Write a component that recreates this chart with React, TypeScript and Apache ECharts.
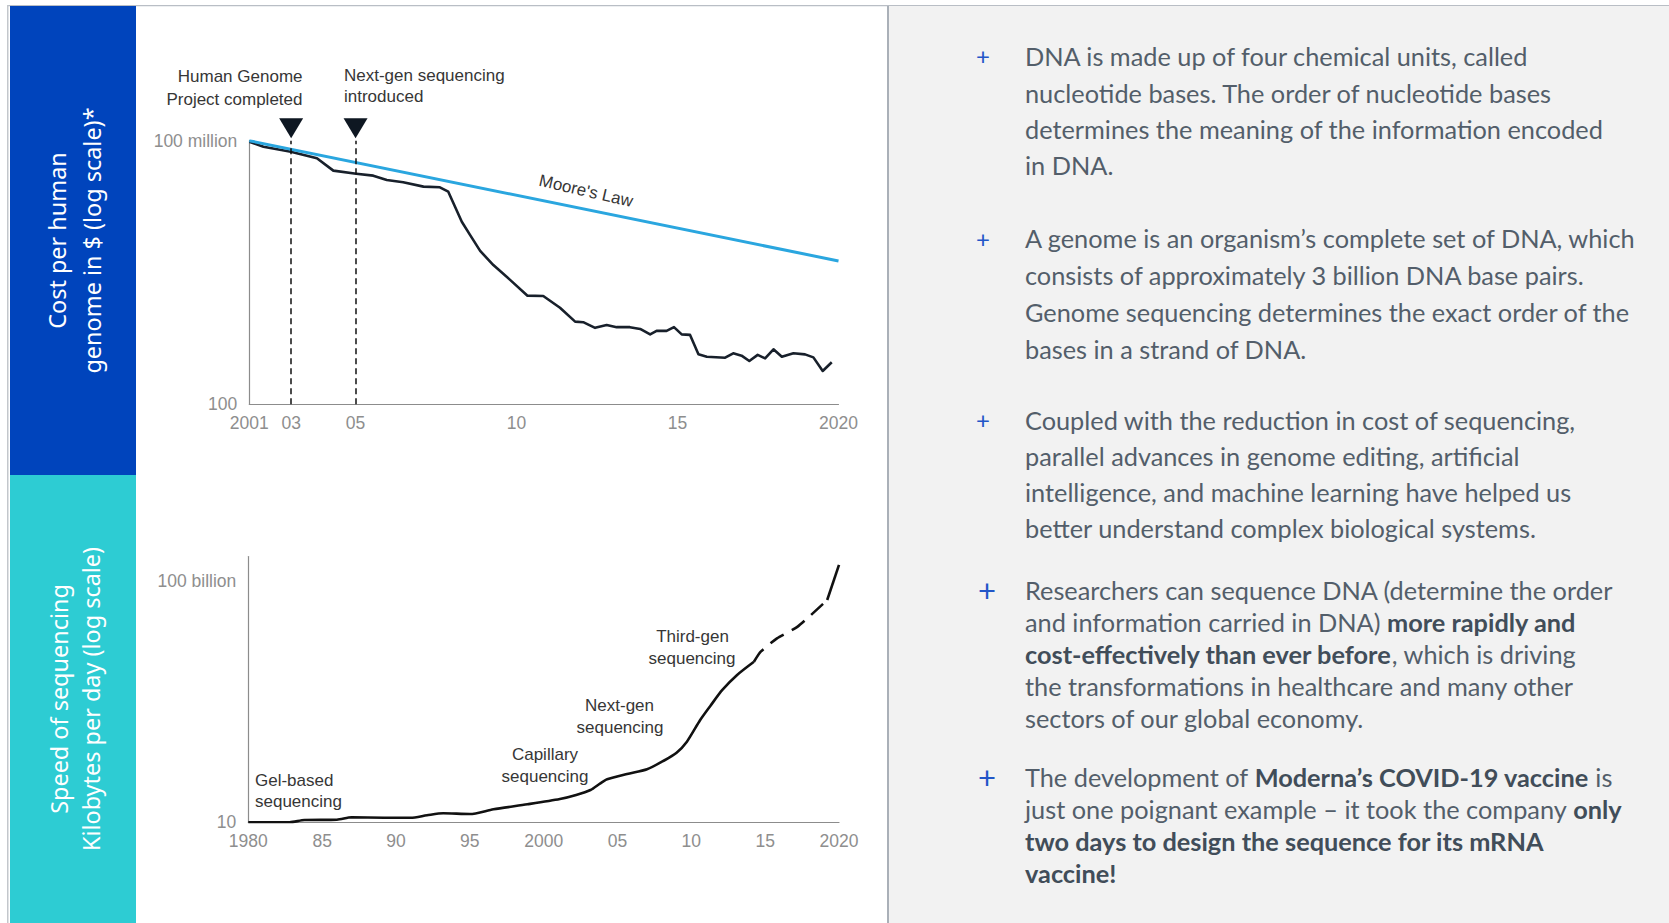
import React, { useEffect, useRef } from "react";
import * as echarts from "echarts";

// ---------- Top chart: cost per human genome, $ (log scale) ----------
const costYears = [
  2001.7, 2002.14, 2002.99, 2003.8, 2004.31, 2005.02, 2005.55, 2005.97, 2006.48, 2007.11,
  2007.62, 2007.88, 2008.3, 2008.56, 2008.87, 2009.28, 2009.8, 2010.34, 2010.83, 2011.35,
  2011.82, 2012.07, 2012.44, 2012.8, 2013.11, 2013.52, 2013.84, 2014.15, 2014.35, 2014.66,
  2014.89, 2015.13, 2015.39, 2015.65, 2015.91, 2016.48, 2016.73, 2016.99, 2017.23, 2017.49,
  2017.72, 2017.98, 2018.24, 2018.6, 2018.96, 2019.22, 2019.51, 2019.79,
];
const costValues = [
  95e6, 73e6, 56e6, 40e6, 20.8e6, 17.7e6, 16e6, 12.8e6, 11.3e6, 9.0e6,
  8.7e6, 6.9e6, 1.43e6, 710e3, 310e3, 148e3, 68e3, 29.7e3, 29.2e3, 15.8e3,
  7.6e3, 7.4e3, 5.5e3, 6.4e3, 5.7e3, 5.7e3, 5.2e3, 3.9e3, 4.7e3, 4.7e3,
  5.7e3, 3.9e3, 3.8e3, 1370, 1210, 1150, 1450, 1280, 968, 1330,
  1110, 1790, 1210, 1450, 1370, 1170, 573, 904,
];
const mooreYears = [2001.7, 2020];
const mooreValues = [1.0e8, 1.83e5];
const milestoneYears = [2003, 2005];
const costXMin = 2001.7;
const costXMax = 2020;
const costYMin = 100;
const costYMax = 1e8;
const costXTicks = [2001.7, 2003, 2005, 2010, 2015, 2020];
const costXTickLabels = ["2001", "03", "05", "10", "15", "2020"];
const costYTicks = [100, 1e8];
const costYTickLabels = ["100", "100 million"];
const costMilestoneLabels = [
  ["Human Genome", "Project completed"],
  ["Next-gen sequencing", "introduced"],
];
const mooreLabel = "Moore's Law";

// ---------- Bottom chart: speed of sequencing, kilobytes per day (log scale) ----------
const speedYears = [
  1980, 1982.8, 1983.8, 1986.0, 1987.0, 1989.2, 1991.0, 1992.1, 1993.2, 1995.0,
  1996.6, 1998.9, 2001.1, 2002.2, 2003.17, 2003.84, 2004.3, 2005.65, 2007.0, 2008.1,
  2009.0, 2009.7, 2010.6, 2011.3, 2012.1, 2013.1, 2014.24,
];
const speedValues = [
  10, 10, 12.4, 12.8, 16.1, 15.5, 15.5, 19.5, 23.6, 22,
  34.5, 55.6, 92, 135, 217, 411, 603, 1000, 1560, 3440,
  7600, 21700, 171000, 670000, 3.0e6, 1.25e7, 4.4e7,
];
const speedProjYears = [2014.24, 2014.7, 2015.8, 2017.2, 2019.2];
const speedProjValues = [4.4e7, 1.15e8, 4.1e8, 1.25e9, 1.58e10];
const speedLatestYears = [2019.2, 2020];
const speedLatestValues = [1.58e10, 4.5e11];
const speedXMin = 1980;
const speedXMax = 2020;
const speedYMin = 10;
const speedYMax = 1e12;
const speedXTicks = [1980, 1985, 1990, 1995, 2000, 2005, 2010, 2015, 2020];
const speedXTickLabels = ["1980", "85", "90", "95", "2000", "05", "10", "15", "2020"];
const speedYTicks = [10, 1e11];
const speedYTickLabels = ["10", "100 billion"];
const speedEraLabels = [
  ["Gel-based", "sequencing"],
  ["Capillary", "sequencing"],
  ["Next-gen", "sequencing"],
  ["Third-gen", "sequencing"],
];

// ---------- Side panel texts ----------
const costPanelTitle = ["Cost per human", "genome in $ (log scale)*"];
const speedPanelTitle = ["Speed of sequencing", "Kilobytes per day (log scale)"];
const bulletParagraphs = [
  [
    "DNA is made up of four chemical units, called",
    "nucleotide bases. The order of nucleotide bases",
    "determines the meaning of the information encoded",
    "in DNA.",
  ],
  [
    "A genome is an organism’s complete set of DNA, which",
    "consists of approximately 3 billion DNA base pairs.",
    "Genome sequencing determines the exact order of the",
    "bases in a strand of DNA.",
  ],
  [
    "Coupled with the reduction in cost of sequencing,",
    "parallel advances in genome editing, artificial",
    "intelligence, and machine learning have helped us",
    "better understand complex biological systems.",
  ],
  [
    "Researchers can sequence DNA (determine the order",
    "and information carried in DNA) **more rapidly and**",
    "**cost-effectively than ever before**, which is driving",
    "the transformations in healthcare and many other",
    "sectors of our global economy.",
  ],
  [
    "The development of **Moderna’s COVID-19 vaccine** is",
    "just one poignant example – it took the company **only**",
    "**two days to design the sequence for its mRNA**",
    "**vaccine!**",
  ],
];

// ---------- helpers ----------
const pairs = (xs: number[], ys: number[]) => xs.map((x, i) => [x, ys[i]]);
const lookup = (ticks: number[], labels: string[], log: boolean) => (v: number) => {
  const i = ticks.findIndex((t) =>
    log ? Math.abs(Math.log10(t) - Math.log10(v)) < 1e-3 : Math.abs(t - v) < 1e-6
  );
  return i >= 0 ? labels[i] : "";
};
const measure = (texts: string[], font: string) => {
  const ctx = document.createElement("canvas").getContext("2d");
  if (!ctx) return 0;
  ctx.font = font;
  return texts.reduce((s, t) => s + ctx.measureText(t).width, 0);
};
const toRich = (line: string) =>
  line
    .split("**")
    .map((s, j) => (s ? `{${j % 2 ? "b" : "n"}|${s}}` : ""))
    .join("");

const CHART_FONT = "'Liberation Sans', Arial, Helvetica, sans-serif";
const PANEL_FONT = "'Noto Sans', 'Open Sans', sans-serif";
const BODY_FONT = "Lato, 'Noto Sans', sans-serif";

export default function App() {
  const ref = useRef<HTMLDivElement>(null);

  useEffect(() => {
    if (!ref.current) return;
    const chart = echarts.init(ref.current, undefined, { renderer: "svg" });

    // fit fonts to the reference text widths
    const panelMeasured = measure(
      [...costPanelTitle, ...speedPanelTitle],
      `400 100px ${PANEL_FONT}`
    );
    const panelSize = panelMeasured ? (100 * (173.5 + 266 + 231 + 306.5)) / panelMeasured : 23;
    const bodyMeasured = measure(
      ["determines the meaning of the information encoded", "Researchers can sequence DNA (determine the order"],
      `400 100px ${BODY_FONT}`
    );
    const bodySize = bodyMeasured ? (100 * (582 + 585)) / bodyMeasured : 24;

    const annColor = "#363636";
    const annSize = 17;
    const tickColor = "#8e8e8e";

    const graphics: any[] = [];
    // frame & panels
    graphics.push(
      { type: "rect", z: 0, shape: { x: 7, y: 5, width: 1662, height: 1.2 }, style: { fill: "#b9bec5" } },
      { type: "rect", z: 0, shape: { x: 7, y: 5, width: 1.5, height: 918 }, style: { fill: "#c3c7cc" } },
      { type: "rect", z: 0, shape: { x: 10, y: 6, width: 126, height: 469 }, style: { fill: "#0044BC" } },
      { type: "rect", z: 0, shape: { x: 10, y: 475, width: 126, height: 448 }, style: { fill: "#2DCCD3" } },
      { type: "rect", z: 0, shape: { x: 887, y: 6, width: 2, height: 917 }, style: { fill: "#aab0b8" } },
      { type: "rect", z: 0, shape: { x: 889, y: 6, width: 780, height: 917 }, style: { fill: "#f2f2f2" } }
    );

    // rotated panel titles
    const panelText = (text: string, x: number, y: number) => ({
      type: "text",
      z: 1,
      x,
      y,
      rotation: Math.PI / 2,
      style: {
        text,
        fill: "#ffffff",
        fontSize: panelSize,
        fontFamily: PANEL_FONT,
        align: "center",
        verticalAlign: "middle",
      },
    });
    graphics.push(
      panelText(costPanelTitle[0], 56.5, 240.5),
      panelText(costPanelTitle[1], 91.5, 240.5),
      panelText(speedPanelTitle[0], 58.5, 699),
      panelText(speedPanelTitle[1], 90.5, 699)
    );

    // chart annotations
    const ann = (text: string, x: number, y: number, align: string, extra: any = {}) => ({
      type: "text",
      z: 5,
      x,
      y,
      ...extra,
      style: {
        text,
        fill: annColor,
        fontSize: annSize,
        fontFamily: CHART_FONT,
        align,
        verticalAlign: "middle",
      },
    });
    graphics.push(
      ann(costMilestoneLabels[0][0], 302.5, 76.5, "right"),
      ann(costMilestoneLabels[0][1], 302.5, 99.5, "right"),
      ann(costMilestoneLabels[1][0], 344, 75, "left"),
      ann(costMilestoneLabels[1][1], 344, 96.5, "left"),
      ann(mooreLabel, 586, 191, "center", { rotation: (-13 * Math.PI) / 180 }),
      ann(speedEraLabels[0][0], 255, 780, "left"),
      ann(speedEraLabels[0][1], 255, 801.5, "left"),
      ann(speedEraLabels[1][0], 545, 754, "center"),
      ann(speedEraLabels[1][1], 545, 776.5, "center"),
      ann(speedEraLabels[2][0], 619.5, 705.5, "center"),
      ann(speedEraLabels[2][1], 620, 727.5, "center"),
      ann(speedEraLabels[3][0], 692.5, 636.5, "center"),
      ann(speedEraLabels[3][1], 692, 658.5, "center")
    );

    // bullet paragraphs
    const paraLayout = [
      { base: 64.3, step: 36.4, plusY: 55, plusSize: 24, plusX: 983 },
      { base: 246.6, step: 36.7, plusY: 238.3, plusSize: 24, plusX: 983 },
      { base: 428, step: 36.2, plusY: 419.3, plusSize: 24, plusX: 983 },
      { base: 598.3, step: 32, plusY: 590, plusSize: 31, plusX: 987 },
      { base: 785, step: 32, plusY: 776.7, plusSize: 31, plusX: 987 },
    ];
    const rich = {
      n: { fill: "#535e6a", fontSize: bodySize, fontFamily: BODY_FONT, fontWeight: 400 },
      b: { fill: "#414d59", fontSize: bodySize, fontFamily: BODY_FONT, fontWeight: 700 },
    };
    bulletParagraphs.forEach((lines, p) => {
      const L = paraLayout[p];
      graphics.push({
        type: "text",
        z: 5,
        x: L.plusX,
        y: L.plusY,
        style: {
          text: "+",
          fill: "#2256c8",
          fontSize: L.plusSize,
          fontFamily: BODY_FONT,
          fontWeight: 400,
          align: "center",
          verticalAlign: "middle",
        },
      });
      lines.forEach((line, i) => {
        graphics.push({
          type: "text",
          z: 5,
          x: 1025,
          y: L.base + i * L.step - 0.32 * bodySize,
          style: {
            text: toRich(line),
            rich,
            align: "left",
            verticalAlign: "middle",
          },
        });
      });
    });

    const axisLine = { show: true, lineStyle: { color: "#8c8c8c", width: 1.2 } };
    const tickLabel = { color: tickColor, fontFamily: CHART_FONT };

    const option: any = {
      animation: false,
      backgroundColor: "#ffffff",
      grid: [
        { left: 249.3, top: 140.7, width: 589.2, height: 263.6, outerBoundsMode: "none", containLabel: false },
        { left: 248.3, top: 556.5, width: 590.7, height: 265.8, outerBoundsMode: "none", containLabel: false },
      ],
      xAxis: [
        {
          type: "value",
          gridIndex: 0,
          min: costXMin,
          max: costXMax,
          axisLine,
          axisTick: { show: false },
          splitLine: { show: false },
          axisLabel: {
            ...tickLabel,
            fontSize: 17.5,
            margin: 10,
            customValues: costXTicks,
            formatter: lookup(costXTicks, costXTickLabels, false),
          },
        },
        {
          type: "value",
          gridIndex: 1,
          min: speedXMin,
          max: speedXMax,
          interval: 5,
          axisLine,
          axisTick: { show: false },
          splitLine: { show: false },
          axisLabel: {
            ...tickLabel,
            fontSize: 17.5,
            margin: 10,
            showMinLabel: true,
            showMaxLabel: true,
            formatter: lookup(speedXTicks, speedXTickLabels, false),
          },
        },
      ],
      yAxis: [
        {
          type: "log",
          gridIndex: 0,
          logBase: 10,
          min: costYMin,
          max: costYMax,
          axisLine,
          axisTick: { show: false },
          splitLine: { show: false },
          minorTick: { show: false },
          axisLabel: {
            ...tickLabel,
            fontSize: 17.5,
            margin: 12,
            showMinLabel: true,
            showMaxLabel: true,
            formatter: lookup(costYTicks, costYTickLabels, true),
          },
        },
        {
          type: "log",
          gridIndex: 1,
          // base chosen so that the 10 / 100 billion / 1 trillion ticks are generated
          logBase: 1e11,
          min: speedYMin,
          max: speedYMax,
          axisLine,
          axisTick: { show: false },
          splitLine: { show: false },
          minorTick: { show: false },
          axisLabel: {
            ...tickLabel,
            fontSize: 17.5,
            margin: 12,
            showMinLabel: true,
            showMaxLabel: true,
            formatter: lookup(speedYTicks, speedYTickLabels, true),
          },
        },
      ],
      graphic: { elements: graphics },
      series: [
        {
          type: "line",
          name: "Cost per genome",
          xAxisIndex: 0,
          yAxisIndex: 0,
          data: pairs(costYears, costValues),
          symbol: "none",
          silent: true,
          z: 3,
          lineStyle: { color: "#18202b", width: 2.6, join: "round" },
        },
        {
          type: "line",
          name: "Moore's Law",
          xAxisIndex: 0,
          yAxisIndex: 0,
          data: pairs(mooreYears, mooreValues),
          symbol: "none",
          silent: true,
          z: 4,
          lineStyle: { color: "#2aa6df", width: 3 },
        },
        {
          type: "scatter",
          name: "Milestones",
          xAxisIndex: 0,
          yAxisIndex: 0,
          data: milestoneYears.map((y) => [y, costYMax]),
          symbol: "triangle",
          symbolRotate: 180,
          symbolSize: [24, 20],
          symbolOffset: [0, -12.5],
          clip: false,
          silent: true,
          z: 5,
          itemStyle: { color: "#0e1722", opacity: 1 },
          markLine: {
            silent: true,
            symbol: "none",
            label: { show: false },
            lineStyle: { color: "#111111", width: 1.5, type: [6, 4], opacity: 1 },
            data: milestoneYears.map((y) => ({ xAxis: y })),
          },
        },
        {
          type: "line",
          name: "Speed",
          xAxisIndex: 1,
          yAxisIndex: 1,
          data: pairs(speedYears, speedValues),
          symbol: "none",
          smooth: 0.25,
          silent: true,
          lineStyle: { color: "#111111", width: 2.6 },
        },
        {
          type: "line",
          name: "Speed (projected)",
          xAxisIndex: 1,
          yAxisIndex: 1,
          data: pairs(speedProjYears, speedProjValues),
          symbol: "none",
          smooth: 0.2,
          silent: true,
          lineStyle: { color: "#111111", width: 2.6, type: [16, 9] },
        },
        {
          type: "line",
          name: "Speed (latest)",
          xAxisIndex: 1,
          yAxisIndex: 1,
          data: pairs(speedLatestYears, speedLatestValues),
          symbol: "none",
          silent: true,
          lineStyle: { color: "#111111", width: 2.6 },
        },
      ],
    };

    chart.setOption(option);
    return () => chart.dispose();
  }, []);

  return (
    <div
      ref={ref}
      style={{ position: "absolute", left: 0, top: 0, width: 1669, height: 923 }}
    />
  );
}
